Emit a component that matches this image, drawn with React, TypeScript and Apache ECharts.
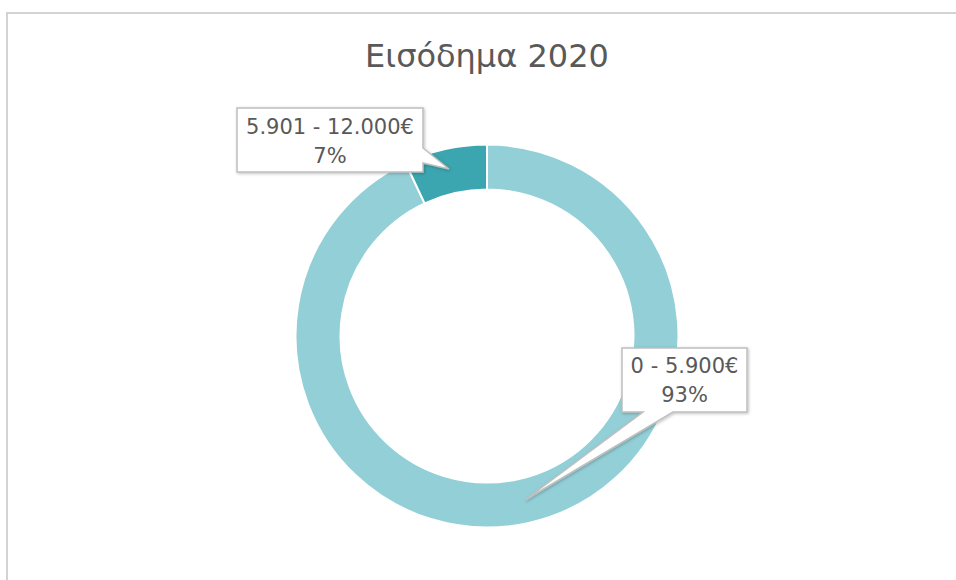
import React, { useEffect, useRef } from "react";
import * as echarts from "echarts";

const categories: string[] = ["0 - 5.900€", "5.901 - 12.000€"];
const values: number[] = [93, 7];
const colors: string[] = ["#93CFD7", "#3BA6AF"];
const titleText = "Εισόδημα 2020";

// label centres (layout only)
const labelCenters: [number, number][] = [
  [684.5, 380],
  [330, 141],
];

export default function App() {
  const ref = useRef<HTMLDivElement>(null);
  useEffect(() => {
    if (!ref.current) return;
    const chart = echarts.init(ref.current, undefined, { renderer: "svg" });
    const data = categories.map((c, i) => ({ name: c, value: values[i] }));
    const calloutStyle = {
      fill: "#ffffff",
      stroke: "#BFBFBF",
      lineWidth: 1.5,
      shadowBlur: 3,
      shadowOffsetX: 1,
      shadowOffsetY: 1,
      shadowColor: "rgba(0,0,0,0.25)",
    };
    chart.setOption({
      animation: false,
      backgroundColor: "#ffffff",
      color: colors,
      title: {
        text: titleText,
        left: 482,
        top: 35,
        textAlign: "center",
        textStyle: {
          fontFamily: "DejaVu Sans",
          fontSize: 32,
          fontWeight: "normal",
          color: "#595959",
        },
      },
      graphic: [
        {
          type: "rect",
          z: 1,
          shape: { x: 7, y: 13, width: 1000, height: 700 },
          style: { fill: "none", stroke: "#D3D3D3", lineWidth: 2 },
        },
        {
          type: "polygon",
          z: 10,
          shape: {
            points: [
              [237, 108],
              [423, 108],
              [423, 148],
              [449, 169],
              [423, 163],
              [423, 172],
              [237, 172],
            ],
          },
          style: calloutStyle,
        },
        {
          type: "polygon",
          z: 10,
          shape: {
            points: [
              [622, 348],
              [747, 348],
              [747, 412],
              [673, 412],
              [525, 500],
              [643, 412],
              [622, 412],
            ],
          },
          style: calloutStyle,
        },
      ],
      series: [
        {
          type: "pie",
          z: 2,
          center: [487, 336],
          radius: [146.5, 191.5],
          startAngle: 90,
          clockwise: true,
          silent: true,
          avoidLabelOverlap: false,
          label: { show: false },
          labelLine: { show: false },
          itemStyle: { borderColor: "#ffffff", borderWidth: 2 },
          data,
        },
        {
          type: "pie",
          z: 20,
          center: [487, 336],
          radius: [146.5, 191.5],
          startAngle: 90,
          clockwise: true,
          silent: true,
          avoidLabelOverlap: false,
          itemStyle: { color: "rgba(0,0,0,0)" },
          label: {
            show: true,
            position: "outside",
            formatter: (p: any) => `${p.name}\n${Math.round(p.percent)}%`,
            fontFamily: "DejaVu Sans",
            fontSize: 21,
            lineHeight: 29,
            color: "#595959",
            align: "center",
          },
          labelLine: { show: false },
          labelLayout: (params: any) => {
            const c = labelCenters[params.dataIndex];
            return {
              x: c[0],
              y: c[1],
              align: "center",
              verticalAlign: "middle",
            };
          },
          data,
        },
      ],
    });
    return () => chart.dispose();
  }, []);
  return (
    <div
      ref={ref}
      style={{ position: "fixed", left: 0, top: 0, width: 956, height: 580 }}
    />
  );
}
